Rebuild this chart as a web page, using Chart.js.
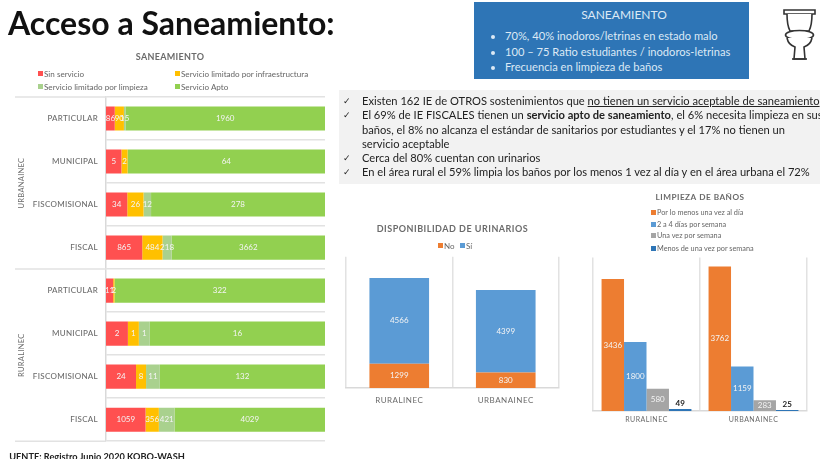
<!DOCTYPE html>
<html lang="es">
<head>
<meta charset="utf-8">
<title>Acceso a Saneamiento</title>
<script src="https://cdn.jsdelivr.net/npm/chart.js@4"></script>
<style>
  html, body { margin: 0; padding: 0; background: #fff; overflow: hidden; }
  #page { position: relative; width: 820px; height: 459px; overflow: hidden; font-family: Lato, "Open Sans", sans-serif; filter: blur(0.55px); }
  canvas { position: absolute; }
  h1 { position: absolute; left: 8px; top: 4px; margin: 0; font-size: 32px; line-height: 38px; font-weight: 700; color: #111; white-space: nowrap; }
  #box { position: absolute; left: 474px; top: 2px; width: 275px; height: 77px; background: #2e75b6; color: #dce9f5; font-size: 11.15px; }
  #box h2 { margin: 6px 0 0; padding-left: 25px; font-size: 12px; font-weight: 400; text-align: center; line-height: 14px; }
  #box ul { margin: 6px 0 0; padding: 0 0 0 31px; line-height: 15.6px; }
  #notes { position: absolute; left: 339px; top: 90px; width: 481px; height: 94px; background: #f2f2f2; color: #222; font-size: 11.15px; line-height: 14.3px; box-sizing: border-box; padding: 4px 0 0 23px; }
  #notes div { position: relative; white-space: nowrap; }
  #notes div::before { content: "\2713"; position: absolute; left: -19px; font-family: "DejaVu Sans"; font-size: 9px; font-weight: 700; }
  #source { position: absolute; left: 9px; top: 451px; width: 300px; overflow: hidden; white-space: nowrap; font-size: 9.2px; font-weight: 700; color: #222; text-indent: -5px; }
  .lg { position: absolute; line-height: 8px; color: #666; white-space: nowrap; }
  .lg i { position: absolute; left: -6px; top: 1px; width: 5px; height: 5px; }
  #toilet { position: absolute; left: 783px; top: 8px; }
</style>
</head>
<body>
<div id="page">
  <h1>Acceso a Saneamiento:</h1>
  <div id="box">
    <h2>SANEAMIENTO</h2>
    <ul>
      <li>70%, 40% inodoros/letrinas en estado malo</li>
      <li>100 – 75 Ratio estudiantes / inodoros-letrinas</li>
      <li>Frecuencia en limpieza de baños</li>
    </ul>
  </div>
  <svg id="toilet" width="33" height="54" viewBox="0 0 33 54" fill="#fff" stroke="#333" stroke-width="1.6">
    <path d="M1 2h31v4H1z"/>
    <path d="M4 6c0 8 1 13 3 17h19c2-4 3-9 3-17"/>
    <ellipse cx="16.5" cy="27" rx="14" ry="4.5"/>
    <path d="M4 30c1 5 5 8 8 9l-1 12h11l-1-12c3-1 7-4 8-9"/>
    <path d="M9 51h15"/>
  </svg>
  <div id="notes">
    <div>Existen 162 IE de OTROS sostenimientos que <u>no tienen un servicio aceptable de saneamiento</u></div>
    <div>El 69% de IE FISCALES tienen un <b>servicio apto de saneamiento</b>, el 6% necesita limpieza en sus<br>baños, el 8% no alcanza el estándar de sanitarios por estudiantes y el 17% no tienen un<br>servicio aceptable</div>
    <div>Cerca del 80% cuentan con urinarios</div>
    <div>En el área rural el 59% limpia los baños por los menos 1 vez al día y en el área urbana el 72%</div>
  </div>
  <div id="source">FUENTE: Registro Junio 2020 KOBO-WASH</div>
  <canvas id="sanChart" width="327" height="402" style="left:15px;top:52px"></canvas>
  <canvas id="uriChart" width="225" height="184" style="left:340px;top:224px"></canvas>
  <canvas id="limChart" width="224" height="239" style="left:588px;top:192px"></canvas>
</div>

<script>
// saneamiento, conteos por tipo de IE
const sanCategories = ['PARTICULAR', 'MUNICIPAL', 'FISCOMISIONAL', 'FISCAL', 'PARTICULAR', 'MUNICIPAL', 'FISCOMISIONAL', 'FISCAL'];
const sinServicio = [86, 5, 34, 865, 11, 2, 24, 1059];
const limitadoInfra = [90, 2, 26, 484, 2, 1, 8, 356];
const limitadoLimpieza = [15, 0, 12, 218, 0, 1, 11, 421];
const servicioApto = [1960, 64, 278, 3662, 322, 16, 132, 4029];

// urinarios
const areas = ['RURALINEC', 'URBANAINEC'];
const uriNo = [1299, 830];
const uriSi = [4566, 4399];

// limpieza de baños
const limDiario = [3436, 3762];
const limSemana24 = [1800, 1159];
const limSemana1 = [580, 283];
const limMenos = [49, 25];

const GREY = '#6b6b6b';
const GRID = '#e2e2e2';

// total por fila para el 100% apilado
const rowTotals = sanCategories.map((c, i) => sinServicio[i] + limitadoInfra[i] + limitadoLimpieza[i] + servicioApto[i]);
const toPct = arr => arr.map((v, i) => v / rowTotals[i] * 100);

function sanDataset(label, raw, color) {
  return { label, raw, data: toPct(raw), backgroundColor: color };
}

// etiquetas de valor encima de las barras
const valueLabels = {
  id: 'valueLabels',
  afterDatasetsDraw(chart) {
    const ctx = chart.ctx;
    ctx.save();
    ctx.letterSpacing = '0px';
    ctx.textAlign = 'center';
    ctx.textBaseline = 'middle';
    chart.data.datasets.forEach((ds, d) => {
      chart.getDatasetMeta(d).data.forEach((bar, i) => {
        const v = ds.raw ? ds.raw[i] : ds.data[i];
        if (!v) return;
        const p = bar.getCenterPoint();
        if (ds.outside) {
          ctx.fillStyle = '#222';
          ctx.font = 'bold 8px Lato';
          ctx.fillText(v, p.x, bar.y - 6);
        } else {
          ctx.fillStyle = ds.labelColor || '#f4f4f4';
          ctx.font = '8px Lato';
          ctx.fillText(v, p.x, p.y);
        }
      });
    });
    ctx.restore();
  }
};

function spacedText(px) {
  return { id: 'spacedText', beforeDraw(chart) { chart.ctx.letterSpacing = px + 'px'; } };
}

// grupos URBANAINEC / RURALINEC a la izquierda del eje
const groupAxis = {
  id: 'groupAxis',
  afterDraw(chart) {
    const ctx = chart.ctx;
    const y = chart.scales.y;
    const step = y.getPixelForTick(1) - y.getPixelForTick(0);
    const left = chart.chartArea.left;
    ctx.save();
    ctx.strokeStyle = GRID;
    ctx.lineWidth = 1.5;
    [0, 4, 8].forEach(i => {
      const py = y.getPixelForTick(0) - step / 2 + step * i;
      ctx.beginPath();
      ctx.moveTo(0, py);
      ctx.lineTo(left, py);
      ctx.stroke();
    });
    ctx.fillStyle = GREY;
    ctx.font = '7.5px Lato';
    ctx.textAlign = 'center';
    ctx.textBaseline = 'middle';
    [['URBANAINEC', 0], ['RURALINEC', 4]].forEach(([name, first]) => {
      const py = (y.getPixelForTick(first) + y.getPixelForTick(first + 3)) / 2;
      ctx.save();
      ctx.translate(6.5, py);
      ctx.rotate(-Math.PI / 2);
      ctx.fillText(name, 0, 0);
      ctx.restore();
    });
    ctx.restore();
  }
};

const titleFont = { family: 'Lato', size: 9, weight: 'bold' };

new Chart(document.getElementById('sanChart'), {
  type: 'bar',
  data: {
    labels: sanCategories,
    datasets: [
      sanDataset('Sin servicio', sinServicio, '#ff5050'),
      sanDataset('Servicio limitado por infraestructura', limitadoInfra, '#ffc000'),
      sanDataset('Servicio limitado por limpieza', limitadoLimpieza, '#a9d18e'),
      sanDataset('Servicio Apto', servicioApto, '#92d050')
    ]
  },
  options: {
    indexAxis: 'y',
    responsive: false,
    animation: false,
    layout: { padding: { right: 17, bottom: 1 } },
    datasets: { bar: { categoryPercentage: 0.56, barPercentage: 1 } },
    plugins: {
      legend: { display: false },
      tooltip: { enabled: false },
      title: { display: true, text: 'SANEAMIENTO', font: titleFont, color: GREY, padding: { top: 0, bottom: 34.2 } }
    },
    scales: {
      x: { stacked: true, display: false, min: 0, max: 100 },
      y: {
        stacked: true,
        afterFit(scale) { scale.width = 91; },
        grid: { color: GRID, lineWidth: 1.5, drawTicks: false },
        border: { color: '#d9d9d9', width: 1.5 },
        ticks: { color: GREY, font: { family: 'Lato', size: 8, weight: '500' }, padding: 8, autoSkip: false }
      }
    }
  },
  plugins: [spacedText(0.3), valueLabels, groupAxis]
});

function columnScales(yMax, tickPad, tickSize) {
  return {
    x: {
      stacked: false,
      afterFit(scale) { scale.height = 20; },
      grid: { color: GRID, lineWidth: 1.5, drawTicks: false },
      border: { color: '#d9d9d9', width: 1.5 },
      ticks: { color: GREY, font: { family: 'Lato', size: tickSize }, padding: tickPad, maxRotation: 0 }
    },
    y: { display: false, min: 0, max: yMax }
  };
}

const uriScales = columnScales(7000, 8, 8);
uriScales.x.stacked = true;
uriScales.y.stacked = true;

new Chart(document.getElementById('uriChart'), {
  type: 'bar',
  data: {
    labels: areas,
    datasets: [
      { label: 'No', data: uriNo, backgroundColor: '#ed7d31' },
      { label: 'Sí', data: uriSi, backgroundColor: '#5b9bd5' }
    ]
  },
  options: {
    responsive: false,
    animation: false,
    layout: { padding: { left: 6, right: 6 } },
    datasets: { bar: { categoryPercentage: 0.56, barPercentage: 1 } },
    plugins: {
      legend: { display: false },
      tooltip: { enabled: false },
      title: { display: true, text: 'DISPONIBILIDAD DE URINARIOS', font: titleFont, color: GREY, padding: { top: 0, bottom: 21.9 } }
    },
    scales: uriScales
  },
  plugins: [spacedText(0.5), valueLabels]
});

new Chart(document.getElementById('limChart'), {
  type: 'bar',
  data: {
    labels: areas,
    datasets: [
      { label: 'Por lo menos una vez al día', data: limDiario, backgroundColor: '#ed7d31' },
      { label: '2 a 4 días por semana', data: limSemana24, backgroundColor: '#5b9bd5' },
      { label: 'Una vez por semana', data: limSemana1, backgroundColor: '#a5a5a5' },
      { label: 'Menos de una vez por semana', data: limMenos, backgroundColor: '#2e75b6', outside: true }
    ]
  },
  options: {
    responsive: false,
    animation: false,
    layout: { padding: { left: 5, right: 5 } },
    datasets: { bar: { categoryPercentage: 0.84, barPercentage: 1 } },
    plugins: {
      legend: { display: false },
      tooltip: { enabled: false },
      title: { display: true, text: 'LIMPIEZA DE BAÑOS', font: { family: 'Lato', size: 8.2, weight: 'bold' }, color: GREY, padding: { top: 0.4, bottom: 55.2 } }
    },
    scales: columnScales(4000, 5, 7)
  },
  plugins: [spacedText(0.5), valueLabels]
});

// leyendas en html porque la disposicion en columnas no sale del legend de Chart.js
const legendSpots = [
  ['Sin servicio', '#ff5050', 44, 70, 8.1],
  ['Servicio limitado por infraestructura', '#ffc000', 181, 70, 8.1],
  ['Servicio limitado por limpieza', '#a9d18e', 44, 83, 8.1],
  ['Servicio Apto', '#92d050', 181, 83, 8.1],
  ['No', '#ed7d31', 444, 242, 8],
  ['Sí', '#5b9bd5', 466, 242, 8],
  ['Por lo menos una vez al día', '#ed7d31', 657, 209, 7.3],
  ['2 a 4 días por semana', '#5b9bd5', 657, 221, 7.3],
  ['Una vez por semana', '#a5a5a5', 657, 232, 7.3],
  ['Menos de una vez por semana', '#2e75b6', 657, 245, 7.3]
];
legendSpots.forEach(([text, color, x, y, size]) => {
  const el = document.createElement('div');
  el.className = 'lg';
  el.style.left = x + 'px';
  el.style.top = y + 'px';
  el.style.fontSize = size + 'px';
  el.innerHTML = `<i style="background:${color}"></i>${text}`;
  document.getElementById('page').appendChild(el);
});
</script>
</body>
</html>
